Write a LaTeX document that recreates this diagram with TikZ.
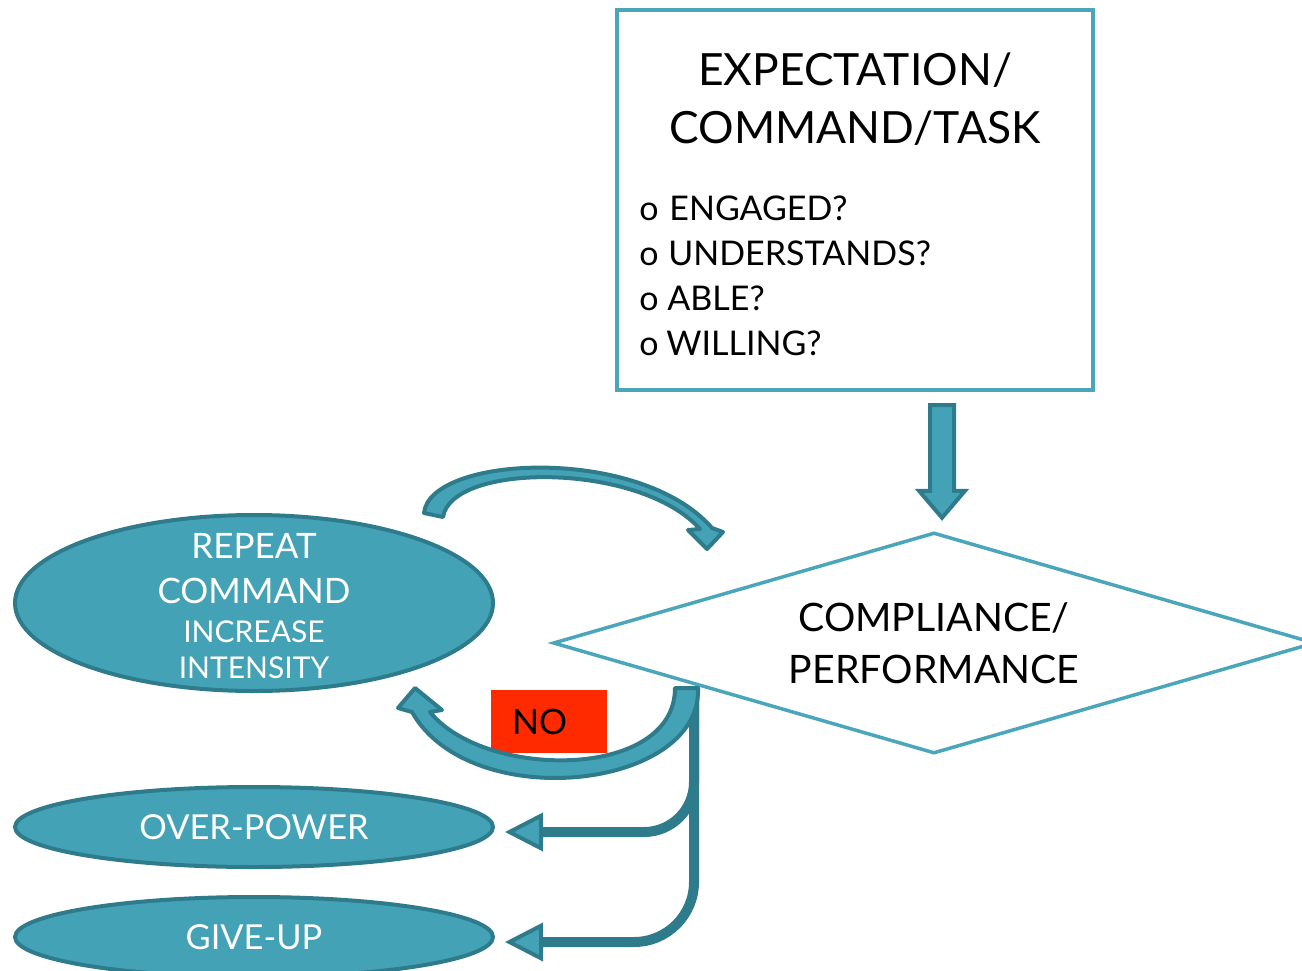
\documentclass[tikz,border=0pt]{standalone}
\usepackage{fontspec}
\setmainfont{Lato}
\usetikzlibrary{shapes.geometric,arrows.meta,positioning,calc}

\definecolor{tealfill}{HTML}{44A2B6}
\definecolor{tealdark}{HTML}{2E7B8C}
\definecolor{tealline}{HTML}{4BA6BB}
\definecolor{nored}{HTML}{FF2A00}

\begin{document}
\begin{tikzpicture}[x=0.5pt,y=-0.5pt,
    task box/.style={rectangle,draw=tealline,line width=2pt,minimum width=238pt,minimum height=190pt},
    check/.style={anchor=base west,inner sep=0pt,font=\fontsize{17}{20}\selectfont},
    decision/.style={diamond,draw=tealline,line width=1.75pt,fill=white,aspect=3.4,
                     minimum width=381pt,minimum height=110.5pt,inner sep=0pt,align=center,
                     font=\fontsize{19.6}{26}\selectfont},
    outcome/.style={ellipse,draw=tealdark,fill=tealfill,line width=2pt,minimum width=239pt,
                    minimum height=40pt,inner sep=0pt,text=white,font=\fontsize{17.2}{20}\selectfont},
    branch/.style={draw=tealdark,line width=5pt,
                   -{Triangle[length=19pt,width=19pt,line width=2pt,fill=tealfill]}},
    bent arrow/.style={draw=tealdark,fill=tealfill,line width=2pt,line join=round}]

  \useasboundingbox (0,0) rectangle (1302,970);

  % expectation box
  \node[task box] (task) at (855,200) {};
  \node[align=center,font=\fontsize{22.2}{29}\selectfont] (title) at (855,99) {EXPECTATION/\\COMMAND/TASK};
  \node[check] (engaged) at (639,220) {\makebox[15pt][l]{o}ENGAGED?};
  \node[check] (understands) at (639,265) {\makebox[14.5pt][l]{o}UNDERSTANDS?};
  \node[check] (able) at (639,310) {\makebox[14pt][l]{o}ABLE?};
  \node[check] (willing) at (639,355) {\makebox[13.5pt][l]{o}WILLING?};

  % decision
  \node[decision] (perf) at (934,643) {COMPLIANCE/\\PERFORMANCE};

  % outcomes
  \node[outcome,minimum height=88pt] (repeat) at (254,603) {};
  \node[text=white,align=center,inner sep=0pt,font=\fontsize{17.5}{22.5}\selectfont] (repeattext)
    at ([yshift=-1.5pt]repeat.center)
    {REPEAT\\COMMAND\\[-3pt]{\fontsize{15}{18}\selectfont INCREASE}\\[-4.5pt]{\fontsize{15}{18}\selectfont INTENSITY}};
  \node[outcome,below=46pt of repeat] (over) {OVER-POWER};
  \node[outcome,below=13pt of over] (giveup) {GIVE-UP};

  \node[fill=nored,anchor=west,minimum height=31.5pt,text width=37pt,inner xsep=10.5pt,
        align=left,font=\fontsize{17.5}{20}\selectfont] (no) at (491,721.5) {NO};

  % arrow into the decision
  \path (perf.north |- task.south) ++(8,13) coordinate (dtop);
  \path (perf.north) ++(8,-13) coordinate (dtip);
  \draw[bent arrow,line join=miter] ($(dtop)+(-12,0)$) -- ($(dtip)+(-12,-27)$) -- ++(-11,0) -- (dtip)
    -- ++(23,-27) -- ++(-11,0) -- ($(dtop)+(12,0)$) -- cycle;

  % branches
  \coordinate (split) at (694,688);
  \draw[branch,rounded corners=25pt] (split) |- ([xshift=5pt,yshift=-2.5pt]over.east);
  \draw[branch,rounded corners=30pt] (split) |- ([xshift=5pt,yshift=-2.5pt]giveup.east);

  % loop back
  \draw[bent arrow] (698,688) .. controls (702,790) and (470,815) .. (412,712) -- (398,708)
    -- (415,688) -- (442,710) -- (430,712) .. controls (485,780) and (675,780) .. (675,688) -- cycle;
  \draw[bent arrow] (424,513) .. controls (430,455) and (640,445) .. (712,528) -- (723,532)
    -- (707,549) -- (688,530) -- (700,529) .. controls (640,462) and (452,462) .. (443,517) -- cycle;
\end{tikzpicture}
\end{document}
